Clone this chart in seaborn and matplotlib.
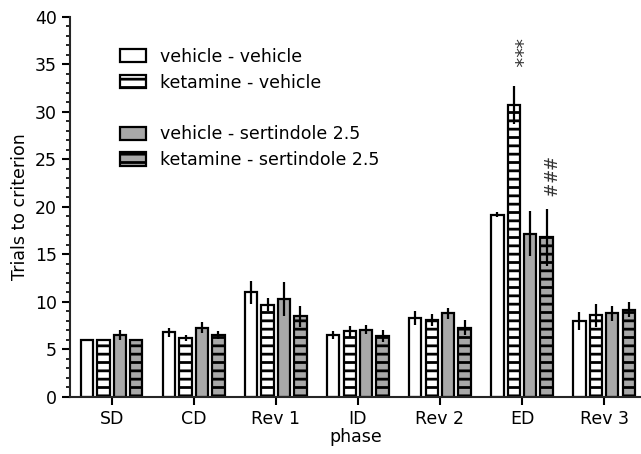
"""
Trials to criterion per phase, grouped bars with SEM error bars
"""

import numpy as np
import pandas as pd
import matplotlib
matplotlib.use('Agg')
import matplotlib.pyplot as plt
from matplotlib.patches import Patch
import seaborn as sns


phases = ['SD', 'CD', 'Rev 1', 'ID', 'Rev 2', 'ED', 'Rev 3']
groups = ['vehicle - vehicle', 'ketamine - vehicle',
          'vehicle - sertindole 2.5', 'ketamine - sertindole 2.5']

veh_veh = [6.0, 6.8, 11.0, 6.5, 8.3, 19.2, 8.0]
ket_veh = [6.0, 6.2, 9.7, 6.9, 8.1, 30.7, 8.6]
veh_sert = [6.5, 7.3, 10.3, 7.1, 8.8, 17.2, 8.8]
ket_sert = [6.0, 6.5, 8.5, 6.4, 7.3, 16.8, 9.2]

veh_veh_err = [0.0, 0.5, 1.2, 0.4, 0.7, 0.3, 0.9]
ket_veh_err = [0.0, 0.3, 0.7, 0.6, 0.6, 2.0, 1.2]
veh_sert_err = [0.5, 0.6, 1.8, 0.5, 0.6, 2.4, 0.8]
ket_sert_err = [0.0, 0.4, 1.1, 0.6, 0.8, 3.0, 0.8]

colors = ['white', 'white', '#a8a8a8', '#a8a8a8']
hatched = [False, True, False, True]

means = [veh_veh, ket_veh, veh_sert, ket_sert]
errs = [veh_veh_err, ket_veh_err, veh_sert_err, ket_sert_err]

df = pd.DataFrame({
    'phase': np.tile(phases, len(groups)),
    'group': np.repeat(groups, len(phases)),
    'trials': np.concatenate(means),
})

sns.set_style('ticks')
plt.rcParams['font.family'] = ['DejaVu Sans']
plt.rcParams['hatch.linewidth'] = 2.0
plt.rcParams['text.color'] = 'black'
plt.rcParams['axes.labelcolor'] = 'black'
plt.rcParams['xtick.color'] = 'black'
plt.rcParams['ytick.color'] = 'black'

fig = plt.figure(figsize=(6.41, 4.54), dpi=100)
ax = fig.add_axes([0.109, 0.1256, 0.891, 0.837])

sns.barplot(data=df, x='phase', y='trials', hue='group', order=phases,
            hue_order=groups, palette=colors, edgecolor='black',
            linewidth=1.6, width=0.8, gap=0.25, errorbar=None,
            legend=False, ax=ax)

for cont, h, err, m in zip(ax.containers, hatched, errs, means):
    xs = []
    for bar in cont:
        if h:
            bar.set_hatch('--')
        xs.append(bar.get_x() + bar.get_width() / 2)
    ax.errorbar(xs, m, yerr=err, fmt='none', ecolor='black',
                elinewidth=1.6, capsize=0)

# significance marks above ED bars
ed = phases.index('ED')
x_ket = ax.containers[1][ed].get_x() + ax.containers[1][ed].get_width() / 2
x_ks = ax.containers[3][ed].get_x() + ax.containers[3][ed].get_width() / 2
ax.text(x_ket, 36.2, '***', rotation=270, ha='center', va='center',
        fontsize=14, color='#333333')
ax.text(x_ks, 23.1, '###', rotation=270, ha='center', va='center',
        fontsize=12, color='#333333')

ax.set_ylim(0, 40)
ax.set_xlim(-0.51, 6.45)
ax.set_yticks(np.arange(0, 41, 5))
ax.set_yticks(np.arange(0, 41, 1), minor=True)
ax.tick_params(axis='both', labelsize=12.5, width=1.5, length=6, direction='out')
ax.tick_params(axis='y', which='minor', width=1.2, length=3)
ax.set_ylabel('Trials to criterion', fontsize=12.5)
ax.set_xlabel('phase', fontsize=12.5, labelpad=0)
for side in ['left', 'bottom']:
    ax.spines[side].set_linewidth(1.5)
sns.despine(ax=ax)

handles = []
labels = []
for g, c, h in zip(groups, colors, hatched):
    handles.append(Patch(facecolor=c, edgecolor='black', linewidth=1.6,
                         hatch='--' if h else None))
    labels.append(g)
    if g == 'ketamine - vehicle':
        handles.append(Patch(visible=False))
        labels.append('')

ax.legend(handles, labels, loc='upper left', bbox_to_anchor=(0.06, 0.96),
          frameon=False, fontsize=12.5, handlelength=1.5, handleheight=0.8,
          labelspacing=0.45, handletextpad=0.8)

fig.savefig('out.png', dpi=100)
plt.close(fig)
